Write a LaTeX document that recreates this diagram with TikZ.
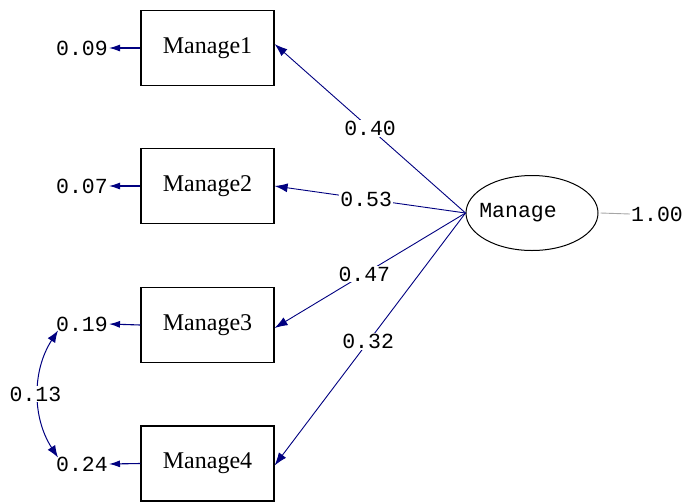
\documentclass[tikz,border=0pt]{standalone}
\usepackage{fontspec}
\setmainfont{Liberation Serif}
\newfontfamily\monofnt{Liberation Mono}
\usetikzlibrary{arrows.meta,shapes.geometric}
\definecolor{navyc}{RGB}{0,0,128}
\tikzset{
  box/.style={draw=black, line width=1.2pt, minimum width=133pt, minimum height=75pt, inner sep=0pt, font=\fontsize{24}{24}\selectfont},
  ell/.style={draw=black, line width=1pt, ellipse, minimum width=132pt, minimum height=75pt, inner sep=0pt},
  mono/.style={font=\monofnt\fontsize{21.5}{21.5}\selectfont, inner sep=1pt},
  lbl/.style={font=\monofnt\fontsize{21.5}{21.5}\selectfont, fill=white, inner sep=1pt},
  path/.style={draw=navyc, line width=0.9pt, -{Latex[length=13pt,width=9pt]}},
  err/.style={draw=navyc, line width=1.1pt, -{Latex[length=11pt,width=7pt]}},
  covar/.style={draw=navyc, line width=1pt, {Latex[length=12pt,width=9pt]}-{Latex[length=12pt,width=9pt]}},
}
\begin{document}
\begin{tikzpicture}[x=1pt,y=-1pt]
\useasboundingbox (0,0) rectangle (687,501);
% observed boxes
\node[box] (m1) at (207.5,48) {Manage1};
\node[box] (m2) at (207.5,186) {Manage2};
\node[box] (m3) at (207.5,325) {Manage3};
\node[box] (m4) at (207.5,463.5) {Manage4};
% latent
\node[ell] (lat) at (532,213) {};
\node[mono] (latl) at (518,213) {Manage};
\node[mono] (v) at (657,214) {1.00};
\draw[gray!70, line width=0.9pt] (lat.east) ++(2,0) coordinate (ve) (ve) -- (v.west);
% errors
\node[mono] (e1) at (82,48) {0.09};
\node[mono] (e2) at (82,186) {0.07};
\node[mono] (e3) at (82,324) {0.19};
\node[mono] (e4) at (82,464) {0.24};
\draw[err] (m1.west) -- (e1.east);
\draw[err] (m2.west) -- (e2.east);
\draw[err] (m3.west) -- (e3.east);
\draw[err] (m4.west) -- (e4.east);
% loadings
\draw[path] (lat.west) -- node[lbl, pos=0.5] {0.40} ([yshift=4]m1.east);
\draw[path] (lat.west) -- node[lbl, pos=0.52] {0.53} (m2.east);
\draw[path] (lat.west) -- node[lbl, pos=0.53] {0.47} ([yshift=-3]m3.east);
\draw[path] (lat.west) -- node[lbl, pos=0.51] {0.32} ([yshift=-2]m4.east);
% covariance
\coordinate (c3) at ([xshift=3,yshift=2]e3.south west);
\coordinate (c4) at ([xshift=3,yshift=-2]e4.north west);
\draw[covar] (c3) .. controls +(-26,40) and +(-26,-40) .. (c4) node[lbl, midway, xshift=-3] {0.13};
\end{tikzpicture}
\end{document}
